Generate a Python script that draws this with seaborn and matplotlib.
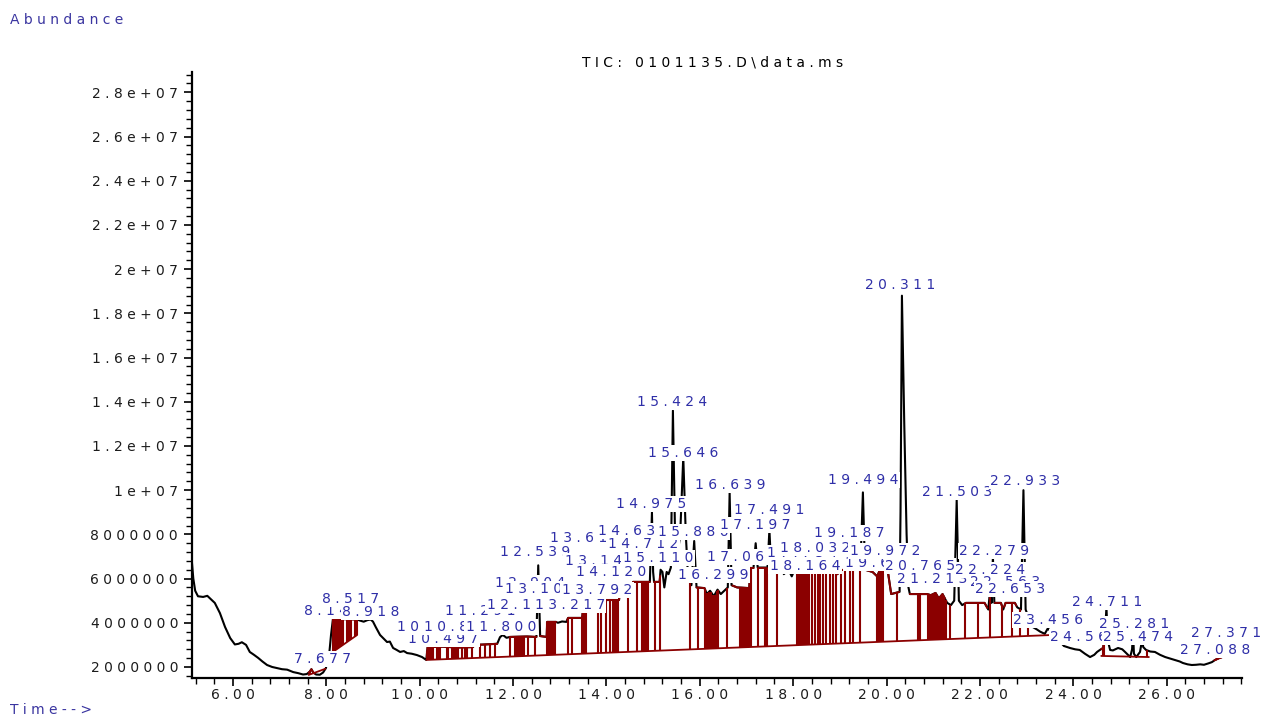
import numpy as np
import matplotlib
matplotlib.use("Agg")
import matplotlib.pyplot as plt
import seaborn as sns
from matplotlib.ticker import FixedLocator, MultipleLocator

# ---------------- data (retention time in min, abundance in millions) ----------------
rt = [5.12, 5.15, 5.19, 5.25, 5.36, 5.45, 5.51, 5.61, 5.72, 5.83, 5.94, 6.04, 6.12, 6.19, 6.28, 6.36, 6.45, 6.54, 6.63, 6.73, 6.84, 6.94, 7.05, 7.16, 7.29, 7.40, 7.50, 7.58, 7.64, 7.68, 7.72, 7.78, 7.86, 7.93, 7.99,
      8.06, 8.10, 8.14, 8.30, 8.50, 8.66, 8.72, 8.80, 8.88, 8.95, 9.00, 9.06, 9.15, 9.22, 9.30, 9.36, 9.43, 9.50, 9.58, 9.66, 9.73, 9.83, 9.94, 10.05, 10.14,
      10.17, 10.50, 10.80, 11.14, 11.18, 11.40, 11.66, 11.72, 11.78, 11.86, 11.93, 12.30, 12.50, 12.539, 12.58, 12.72, 12.73, 12.92, 12.96, 13.05, 13.14, 13.18, 13.48, 13.50, 13.82, 13.84, 14.27, 14.29, 14.55, 14.57, 14.93,
      14.975, 15.00, 15.02, 15.14, 15.16, 15.20, 15.24, 15.29, 15.33, 15.38, 15.424, 15.47, 15.52, 15.58, 15.646, 15.70, 15.75, 15.82, 15.88, 15.93, 16.10, 16.15, 16.22, 16.30, 16.38, 16.45, 16.55, 16.60, 16.639, 16.68, 16.80, 17.06,
      17.08, 17.15, 17.197, 17.24, 17.45, 17.491, 17.53, 17.65, 17.70, 17.75, 17.80, 17.90, 17.97, 18.03, 18.08, 18.50, 18.55, 18.60, 18.90, 18.95, 19.00, 19.40, 19.44, 19.494, 19.54, 19.70, 19.80, 19.85, 20.03, 20.10, 20.28,
      20.30, 20.33, 20.38, 20.43, 20.47, 20.50, 20.87, 20.95, 21.05, 21.12, 21.20, 21.30, 21.38, 21.45, 21.503, 21.55, 21.62, 21.70, 22.10, 22.18, 22.224, 22.25, 22.279, 22.31, 22.45, 22.50, 22.55, 22.75, 22.80, 22.88, 22.933, 22.98,
      23.05, 23.14, 23.22, 23.29, 23.39, 23.456, 23.50, 23.57, 23.65, 23.80, 23.93, 24.04, 24.14, 24.25, 24.36, 24.45, 24.51, 24.57, 24.64, 24.68, 24.711, 24.74, 24.79, 24.85, 24.96, 25.05, 25.11, 25.22, 25.26, 25.281, 25.30, 25.35, 25.43, 25.474, 25.50, 25.56, 25.65, 25.75, 25.86, 25.97, 26.08, 26.18, 26.28, 26.35, 26.45, 26.54, 26.63, 26.72, 26.80, 26.89, 26.97, 27.04, 27.12, 27.19, 27.22]

tic = [6.75, 6.00, 5.45, 5.20, 5.17, 5.22, 5.10, 4.90, 4.44, 3.81, 3.31, 3.02, 3.05, 3.12, 3.00, 2.68, 2.55, 2.41, 2.25, 2.09, 2.00, 1.95, 1.90, 1.88, 1.77, 1.72, 1.66, 1.68, 1.78, 1.90, 1.75, 1.66, 1.65, 1.75, 1.95,
       2.55, 3.45, 4.15, 4.17, 4.16, 4.15, 4.10, 4.05, 4.12, 4.15, 4.05, 3.80, 3.45, 3.30, 3.13, 3.15, 2.86, 2.78, 2.68, 2.72, 2.63, 2.60, 2.54, 2.45, 2.32,
       2.90, 2.92, 2.88, 2.90, 3.00, 3.02, 3.05, 3.35, 3.45, 3.32, 3.36, 3.38, 3.36, 6.60, 3.40, 3.36, 4.04, 4.04, 4.00, 4.06, 4.04, 4.22, 4.22, 4.67, 4.67, 5.03, 5.03, 5.48, 5.48, 5.85, 5.85,
       9.00, 6.30, 5.85, 5.85, 6.40, 6.30, 5.60, 6.30, 6.20, 6.50, 13.60, 8.00, 7.00, 8.00, 11.50, 8.00, 6.00, 5.70, 7.70, 5.60, 5.57, 5.30, 5.45, 5.20, 5.50, 5.30, 5.50, 5.60, 9.90, 5.70, 5.60, 5.57,
       6.48, 6.48, 7.60, 6.50, 6.50, 8.20, 6.50, 6.48, 6.30, 7.20, 6.20, 6.40, 6.10, 6.40, 6.39, 6.39, 6.20, 6.39, 6.39, 6.20, 6.39, 6.39, 6.50, 9.90, 6.40, 6.30, 6.10, 6.35, 6.30, 5.30, 5.40,
       9.00, 18.80, 13.00, 8.00, 5.60, 5.30, 5.30, 5.25, 5.35, 5.10, 5.30, 4.90, 4.80, 5.00, 9.55, 5.00, 4.80, 4.90, 4.90, 4.60, 5.60, 4.90, 7.00, 4.90, 4.90, 4.60, 4.90, 4.90, 4.70, 4.60, 10.00, 4.60,
       4.20, 3.80, 3.70, 3.60, 3.50, 3.75, 3.65, 3.60, 3.30, 2.95, 2.86, 2.80, 2.77, 2.60, 2.45, 2.55, 2.68, 2.77, 2.86, 3.50, 4.70, 3.20, 2.77, 2.75, 2.86, 2.80, 2.68, 2.45, 2.80, 3.60, 2.60, 2.45, 2.68, 3.22, 2.90, 2.77, 2.70, 2.68, 2.55, 2.45, 2.38, 2.32, 2.25, 2.18, 2.12, 2.09, 2.10, 2.12, 2.10, 2.16, 2.22, 2.32, 2.40, 2.45, 2.48]

# integration baselines: (t0, v0, t1, v1), abundance in millions
baseline_segments = [(7.62, 1.64, 7.98, 1.92), (8.14, 2.68, 8.66, 3.45), (10.14, 2.32, 23.57, 3.45),
                     (24.60, 2.50, 25.62, 2.45), (27.02, 2.30, 27.22, 2.48)]

# ranges of the signal drawn as integrated (red)
integrated_ranges = [(7.62, 7.75), (8.14, 8.66), (10.16, 11.14), (11.29, 11.66), (11.93, 12.50), (12.58, 12.92),
                     (13.16, 14.93), (15.02, 15.15), (15.93, 16.12), (16.70, 17.15), (17.24, 17.45), (17.53, 17.66),
                     (18.08, 19.42), (19.58, 20.27), (20.50, 21.25), (21.68, 22.16), (22.32, 22.48), (22.52, 22.78),
                     (24.60, 24.66), (27.05, 27.22)]

# peak start / stop drop lines (min)
drop_times = [7.64, 7.72,
              8.14, 8.17, 8.20, 8.23, 8.26, 8.29, 8.32, 8.35, 8.44, 8.47, 8.50, 8.53, 8.61, 8.66,
              10.16, 10.19, 10.22, 10.25, 10.28, 10.37, 10.40, 10.43, 10.58, 10.61, 10.70, 10.73, 10.76, 10.79, 10.82, 10.90, 10.96, 11.01, 11.12,
              11.29, 11.40, 11.50, 11.62,
              11.93, 12.04, 12.08, 12.12, 12.16, 12.20, 12.24, 12.32, 12.48, 12.73, 12.76, 12.79, 12.82, 12.86, 12.90,
              13.18, 13.26, 13.48, 13.51, 13.54, 13.57, 13.82, 13.89, 13.99, 14.08, 14.14, 14.18, 14.22, 14.25, 14.46, 14.65,
              14.76, 14.80, 14.84, 14.89, 15.03, 15.15, 15.78, 15.96, 16.11, 16.14, 16.17, 16.20, 16.24, 16.28, 16.32, 16.36, 16.39, 16.58,
              16.86, 16.90, 16.94, 16.98, 17.02, 17.06, 17.10, 17.25, 17.40, 17.44, 17.65,
              18.08, 18.12, 18.17, 18.22, 18.26, 18.30, 18.34, 18.40, 18.47, 18.53, 18.57, 18.64, 18.71, 18.78, 18.85, 18.92, 19.02, 19.10, 19.21, 19.28, 19.43,
              19.80, 19.84, 19.88, 19.92, 20.22, 20.67, 20.72, 20.89, 20.93, 20.97, 21.01, 21.06, 21.10, 21.14, 21.19, 21.23, 21.27, 21.36,
              21.68, 21.96, 22.22, 22.47, 22.69, 22.86, 23.03, 24.64, 24.66, 25.58, 27.10]

# peak labels: text, position (min, millions)
label_text = ["7.677", "8.142", "8.517", "8.918", "10.497", "10.263", "10.842", "11.291", "11.800", "12.190",
              "12.904", "13.105", "13.217", "13.792", "12.539", "13.612", "13.148", "14.120", "14.635", "14.712",
              "15.110", "14.975", "15.424", "15.646", "15.886", "16.299", "16.639", "17.062", "17.197", "17.491",
              "17.754", "18.164", "18.032", "19.187", "19.494", "19.658", "19.972", "20.311", "20.765", "21.213",
              "21.503", "22.279", "22.224", "22.563", "22.653", "22.933", "23.456", "24.711", "24.562", "25.281",
              "25.474", "27.088", "27.371"]
label_x = [7.928, 8.142, 8.528, 8.956, 10.499, 10.263, 10.841, 11.291, 11.741, 12.191,
           12.362, 12.577, 13.219, 13.798, 12.470, 13.541, 13.862, 14.098, 14.569, 14.783,
           15.105, 14.955, 15.405, 15.640, 15.854, 16.283, 16.647, 16.904, 17.183, 17.483,
           18.190, 18.254, 18.469, 19.196, 19.496, 19.860, 19.967, 20.289, 20.717, 20.974,
           21.510, 22.303, 22.217, 22.538, 22.645, 22.967, 23.459, 24.723, 24.252, 25.302,
           25.388, 27.037, 27.273]
label_y = [2.362, 4.534, 5.077, 4.489, 3.267, 3.810, 3.810, 4.534, 3.810, 4.806,
           5.801, 5.530, 4.806, 5.484, 7.204, 7.837, 6.797, 6.299, 8.154, 7.566,
           6.932, 9.376, 13.991, 11.684, 8.109, 6.163, 10.236, 6.978, 8.426, 9.104,
           7.159, 6.570, 7.385, 8.064, 10.462, 6.706, 7.249, 19.286, 6.570, 5.982,
           9.919, 7.249, 6.389, 5.846, 5.530, 10.417, 4.127, 4.941, 3.358, 3.946,
           3.358, 2.769, 3.539]

ytick_values = [2e6, 4e6, 6e6, 8e6, 1e7, 1.2e7, 1.4e7, 1.6e7, 1.8e7, 2e7, 2.2e7, 2.4e7, 2.6e7, 2.8e7]
ytick_labels = ["2000000", "4000000", "6000000", "8000000", "1e+07", "1.2e+07", "1.4e+07", "1.6e+07",
                "1.8e+07", "2e+07", "2.2e+07", "2.4e+07", "2.6e+07", "2.8e+07"]
xtick_values = [6, 8, 10, 12, 14, 16, 18, 20, 22, 24, 26]
xtick_labels = ["6.00", "8.00", "10.00", "12.00", "14.00", "16.00", "18.00", "20.00", "22.00", "24.00", "26.00"]

title_text = "TIC: 0101135.D\\data.ms"
ylabel_text = "Abundance"
xlabel_text = "Time-->"

# ---------------- style ----------------
sns.set_style("white")
plt.rcParams["font.family"] = ["DejaVu Sans", "Liberation Sans"]

RED = "#8b0000"
BLUE = "#2f2fa8"
TXT = "#1c1c1c"
SCALE = 1e6
FS = 10.0


def spaced(s):
    return " ".join(s)


t_arr = np.array(rt)
v_arr = np.array(tic) * SCALE

fig = plt.figure(figsize=(12.71, 7.18), dpi=100)
ax = fig.add_axes([192 / 1271, 40 / 718, 1050 / 1271, 606 / 718])

# main trace
sns.lineplot(x=t_arr, y=v_arr, ax=ax, color="black", lw=1.5, estimator=None, sort=False, zorder=2)

# integrated signal portions (red)
for a, b in integrated_ranges:
    inside = (t_arr > a) & (t_arr < b)
    ts = np.concatenate([[a], t_arr[inside], [b]])
    vs = np.interp(ts, t_arr, v_arr)
    ax.plot(ts, vs, color=RED, lw=1.4, zorder=3)

# baselines
for t0, v0, t1, v1 in baseline_segments:
    ax.plot([t0, t1], [v0 * SCALE, v1 * SCALE], color=RED, lw=1.3, zorder=3)

# drop lines
for t in drop_times:
    for t0, v0, t1, v1 in baseline_segments:
        if t0 <= t <= t1:
            base = (v0 + (v1 - v0) * (t - t0) / (t1 - t0)) * SCALE
            top = np.interp(t, t_arr, v_arr)
            ax.vlines(t, base, top, color=RED, lw=1.5, zorder=3)
            break

# peak labels with white boxes
for txt, x, y in zip(label_text, label_x, label_y):
    ax.text(x, y * SCALE, spaced(txt), ha="center", va="center", fontsize=FS, color=BLUE,
            zorder=6, clip_on=False,
            bbox=dict(boxstyle="square,pad=0.1", fc="white", ec="none"))

# axes
ax.set_xlim(5.122, 27.615)
ax.set_ylim(1.502e6, 2.892e7)
ax.xaxis.set_major_locator(FixedLocator(xtick_values))
ax.set_xticklabels([spaced(s) for s in xtick_labels])
ax.xaxis.set_minor_locator(MultipleLocator(0.4))
ax.yaxis.set_major_locator(FixedLocator(ytick_values))
ax.set_yticklabels([spaced(s) for s in ytick_labels])
ax.yaxis.set_minor_locator(MultipleLocator(4e5))
ax.tick_params(axis="both", which="major", direction="out", length=6, width=1.2, color="black",
               labelsize=FS, labelcolor=TXT, left=True, bottom=True)
ax.tick_params(axis="both", which="minor", direction="out", length=4, width=1.0, color="black",
               left=True, bottom=True)
ax.tick_params(axis="x", which="major", pad=1)
ax.tick_params(axis="y", which="major", pad=4)
for side in ["top", "right"]:
    ax.spines[side].set_visible(False)
for side in ["left", "bottom"]:
    ax.spines[side].set_color("black")
    ax.spines[side].set_linewidth(1.6)
ax.grid(False)
ax.set_xlabel("")
ax.set_ylabel("")

fig.text(713 / 1271, 1 - 62 / 718, spaced(title_text), ha="center", va="center", fontsize=FS, color="black")
fig.text(10 / 1271, 1 - 20 / 718, spaced(ylabel_text), ha="left", va="center", fontsize=FS, color="#3a35a0")
fig.text(10 / 1271, 1 - 710 / 718, spaced(xlabel_text), ha="left", va="center", fontsize=FS, color="#3a35a0")

fig.savefig("out.png", dpi=100, facecolor="white")
